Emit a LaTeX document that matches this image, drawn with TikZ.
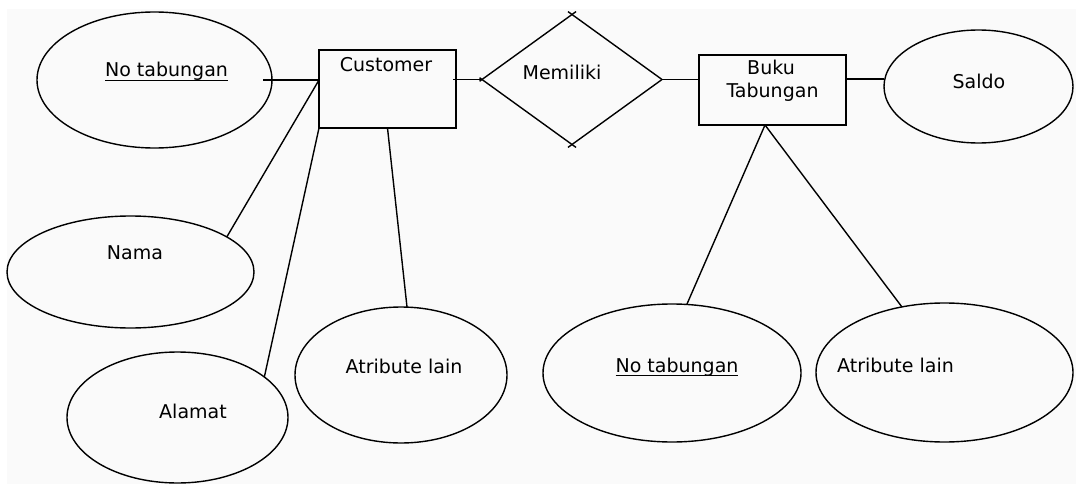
\documentclass[tikz,border=0pt]{standalone}
\usepackage{fontspec}
\setmainfont{DejaVu Sans}
\usetikzlibrary{shapes.geometric}

% key attribute: text with a heavy underline
\newcommand\keyattr[1]{\setbox0\hbox{#1}\rlap{\rule[-4.3pt]{\wd0}{1.3pt}}\box0}

\tikzset{
  entity/.style={draw, rectangle, inner sep=0pt, outer sep=0pt},
  attr/.style={draw, ellipse, inner sep=0pt, outer sep=0pt},
  relship/.style={diamond, inner sep=0pt, outer sep=0pt},
  lbl/.style={anchor=base, inner sep=0pt},
}

\begin{document}
\begin{tikzpicture}[x=1pt, y=-1pt, line width=1.4pt, font=\fontsize{19}{22}\selectfont]
\useasboundingbox[fill=white] (0,0) rectangle (1076,484);
\fill[black!2] (7,9) rectangle (1076,484);

\node (cust) at (387.5,89) [entity, minimum width=137, minimum height=78] {};
\node (rel) at (572,79.5) [relship, minimum width=180, minimum height=130] {};
\node (buku) at (772.5,90) [entity, minimum width=147, minimum height=70] {};

\node (notab1) at (154.5,80) [attr, minimum width=235, minimum height=136] {};
\node (saldo) at (978.5,86.5) [attr, minimum width=189, minimum height=113] {};
\node (nama) at (130.5,272) [attr, minimum width=247, minimum height=112] {};
\node (alamat) at (177.5,417.5) [attr, minimum width=221, minimum height=131] {};
\node (atrib1) at (401,375) [attr, minimum width=212, minimum height=136] {};
\node (notab2) at (672,373) [attr, minimum width=258, minimum height=138] {};
\node (atrib2) at (944.5,372.5) [attr, minimum width=257, minimum height=139] {};

\node (t1) at (166.5,77) [lbl] {\keyattr{No tabungan}};
\node (t2) at (386,72) [lbl] {Customer};
\node (t3) at (562,80) [lbl] {Memiliki};
\node (t4) at (771,75) [lbl] {Buku};
\node (t5) at (772.5,97.5) [lbl] {Tabungan};
\node (t6) at (979,89) [lbl] {Saldo};
\node (t7) at (135,259) [lbl] {Nama};
\node (t8) at (193,418) [lbl] {Alamat};
\node (t9) at (404,373) [lbl] {Atribute lain};
\node (t10) at (677,372) [lbl] {\keyattr{No tabungan}};
\node (t11) at (895.5,372) [lbl] {Atribute lain};

% diamond, edges run a little past the corners
\draw[shorten <=-5pt] (rel.north) -- (rel.east);
\draw[shorten >=-5pt] (rel.east) -- (rel.south);
\draw[shorten <=-5pt, shorten >=-3pt] (rel.south) -- (rel.west);
\draw[shorten <=-3pt, shorten >=-5pt] (rel.west) -- (rel.north);

\draw ([xshift=-9pt]notab1.east) -- (notab1.east -| cust.west);
\draw ([xshift=-3pt]rel.west -| cust.east) -- (rel.west);
\draw (rel.east) -- (rel.east -| buku.west);
\draw ([yshift=7.5pt]saldo.west -| buku.east) -- ([yshift=7.5pt]saldo.west);
\draw (notab1.east -| cust.west) -- (nama.20);
\draw (cust.south west) -- (alamat.25);
\draw (cust.south) -- ([xshift=6pt]atrib1.north);
\draw ([xshift=-7.5pt]buku.south) -- ([xshift=15pt]notab2.north);
\draw ([xshift=-7.5pt]buku.south) -- (atrib2.123);
\end{tikzpicture}
\end{document}
